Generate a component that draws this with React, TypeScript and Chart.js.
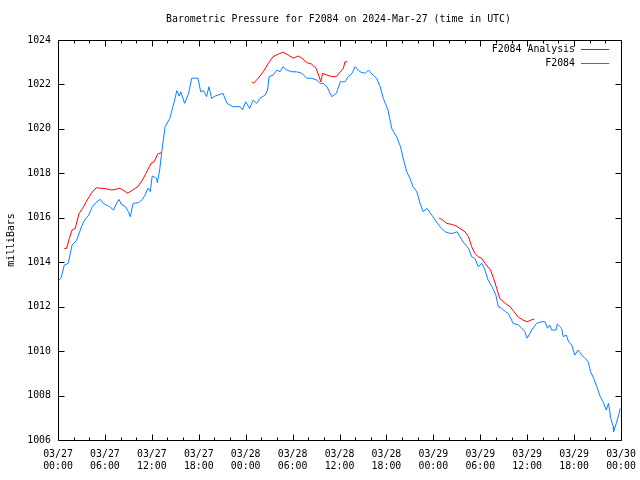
import React, { useEffect, useRef } from "react";
import { Chart, registerables } from "chart.js";

Chart.register(...registerables);

const TITLE = "Barometric Pressure for F2084 on 2024-Mar-27 (time in UTC)";
const Y_LABEL = "milliBars";
const SERIES_NAMES = ["F2084 Analysis", "F2084"];
const START_DAY = 27;
const MONTH = "03";

// hours since 2024-03-27 00:00 UTC
const blueHours = [
  0.0, 0.4, 0.8, 1.3, 1.8, 2.4, 3.0, 3.4, 3.9, 4.4, 4.9, 5.4, 5.8, 6.2, 6.6, 7.1, 7.5, 7.8, 8.1, 8.65,
  9.0, 9.25, 9.6, 10.3, 10.8, 11.1, 11.5, 11.8, 12.05, 12.6, 12.7, 13.0, 13.3, 13.7, 14.3, 14.75, 15.2,
  15.5, 15.7, 16.2, 16.7, 17.1, 17.5, 17.9, 18.25, 18.6, 19.0, 19.3, 19.65, 20.1, 21.1, 21.6, 22.4, 23.3,
  23.6, 24.0, 24.5, 24.97, 25.4, 25.8, 26.5, 26.8, 27.0, 27.5, 28.0, 28.4, 28.8, 29.2, 29.9, 30.5, 31.2,
  31.8, 32.4, 33.1, 33.5, 33.9, 34.4, 35.0, 35.6, 36.1, 36.7, 37.1, 37.6, 38.0, 38.6, 39.3, 39.7, 40.3,
  40.75, 41.2, 41.6, 42.2, 42.7, 43.3, 43.8, 44.2, 44.6, 45.0, 45.4, 45.9, 46.3, 46.7, 47.2, 47.8, 48.4,
  48.85, 49.5, 50.1, 50.5, 51.05, 51.4, 51.8, 52.5, 52.9, 53.3, 53.75, 54.2, 54.6, 55.0, 55.5, 56.0,
  56.3, 56.7, 57.2, 57.6, 58.0, 58.2, 58.9, 59.3, 59.7, 60.0, 60.6, 61.2, 61.85, 62.3, 62.6, 62.9, 63.1,
  63.7, 63.85, 64.4, 64.6, 65.0, 65.3, 65.7, 66.1, 66.5, 67.0, 67.4, 67.8, 68.1, 68.5, 68.9, 69.35, 69.8,
  70.1, 70.4, 70.7, 71.0, 71.05, 71.4, 71.7, 71.9,
];
const blueValues = [
  1013.15, 1013.3, 1013.87, 1013.95, 1014.77, 1015.0, 1015.6, 1015.9, 1016.1, 1016.5, 1016.7, 1016.83,
  1016.65, 1016.57, 1016.5, 1016.35, 1016.66, 1016.83, 1016.6, 1016.5, 1016.27, 1016.05, 1016.65,
  1016.68, 1016.83, 1017.0, 1017.33, 1017.18, 1017.88, 1017.78, 1017.58, 1018.15, 1019.05, 1020.1,
  1020.47, 1021.07, 1021.72, 1021.48, 1021.67, 1021.15, 1021.6, 1022.28, 1022.28, 1022.28, 1021.67,
  1021.72, 1021.45, 1021.9, 1021.37, 1021.48, 1021.6, 1021.15, 1021.0, 1021.0, 1020.85, 1021.22,
  1020.92, 1021.3, 1021.15, 1021.37, 1021.52, 1021.75, 1022.35, 1022.42, 1022.65, 1022.57, 1022.8,
  1022.65, 1022.57, 1022.57, 1022.5, 1022.28, 1022.28, 1022.2, 1022.05, 1022.05, 1021.9, 1021.45,
  1021.6, 1022.12, 1022.12, 1022.35, 1022.5, 1022.8, 1022.57, 1022.5, 1022.65, 1022.42, 1022.28,
  1021.9, 1021.37, 1020.85, 1020.0, 1019.65, 1019.2, 1018.6, 1018.07, 1017.78, 1017.4, 1017.17,
  1016.65, 1016.27, 1016.42, 1016.12, 1015.82, 1015.6, 1015.37, 1015.3, 1015.3, 1015.37, 1015.15,
  1014.92, 1014.62, 1014.25, 1014.17, 1013.8, 1013.95, 1013.65, 1013.2, 1012.9, 1012.52, 1012.0,
  1011.93, 1011.78, 1011.7, 1011.4, 1011.25, 1011.17, 1011.03, 1010.88, 1010.58, 1010.95, 1011.25,
  1011.32, 1011.32, 1011.03, 1011.17, 1010.95, 1010.95, 1011.22, 1011.03, 1010.65, 1010.72, 1010.42,
  1010.27, 1009.82, 1010.05, 1009.82, 1009.67, 1009.53, 1009.08, 1008.78, 1008.4, 1007.95, 1007.65,
  1007.35, 1007.65, 1006.97, 1006.6, 1006.37, 1006.75, 1007.12, 1007.42,
];

// analysis series; null breaks the line between runs
const redHours = [
  0.8, 1.1, 1.45, 1.8, 2.2, 2.7, 3.15, 3.6, 4.0, 4.4, 4.9, 5.5, 6.1, 6.8, 7.4, 7.85, 8.3, 8.9, 9.55,
  10.2, 10.8, 11.25, 11.9, 12.3, 12.75, 13.2,
  19.0,
  24.8, 25.0, 25.6, 26.25, 26.9, 27.5, 28.2, 28.8, 29.45, 30.1, 30.7, 31.2, 31.8, 32.4, 33.0, 33.4,
  33.6, 33.85, 34.4, 35.0, 35.6, 36.1, 36.5, 36.7, 37.0,
  43.0,
  48.75, 49.05, 49.7, 50.35, 50.9, 51.4, 52.05, 52.5, 52.9, 53.3, 53.75, 54.2, 54.6, 55.3, 55.7, 56.1,
  56.5, 57.2, 57.8, 58.3, 58.9, 59.45, 60.0, 60.5, 60.9,
];
const redValues: (number | null)[] = [
  1014.62, 1014.62, 1015.07, 1015.45, 1015.52, 1016.2, 1016.42, 1016.72, 1016.95, 1017.17, 1017.35,
  1017.33, 1017.31, 1017.25, 1017.28, 1017.33, 1017.25, 1017.1, 1017.25, 1017.4, 1017.7, 1018.0,
  1018.45, 1018.52, 1018.87, 1018.93,
  null,
  1022.12, 1022.05, 1022.28, 1022.57, 1022.95, 1023.25, 1023.37, 1023.45, 1023.32, 1023.18, 1023.28,
  1023.18, 1022.98, 1022.92, 1022.73, 1022.35, 1022.12, 1022.5, 1022.42, 1022.35, 1022.35, 1022.57,
  1022.73, 1023.02, 1023.02,
  null,
  1015.97, 1015.94, 1015.75, 1015.7, 1015.64, 1015.52, 1015.37, 1015.15, 1014.7, 1014.4, 1014.25,
  1014.17, 1013.95, 1013.65, 1013.28, 1012.83, 1012.37, 1012.15, 1012.0, 1011.78, 1011.52, 1011.4,
  1011.32, 1011.4, 1011.44,
];

const X_MIN = 0;
const X_MAX = 72;
const X_LABEL_STEP = 6;
const X_MINOR_STEP = 2;
const Y_MIN = 1006;
const Y_MAX = 1024;
const Y_STEP = 2;

const RED = "#ff0000";
const BLUE = "#0a80ff";
const FONT = "'DejaVu Sans Mono', monospace";
const FONT_SIZE = 9.9;

const pad2 = (n: number) => (n < 10 ? "0" + n : "" + n);

function xLabel(h: number): string[] {
  const day = START_DAY + Math.floor(h / 24);
  const hr = ((h % 24) + 24) % 24;
  return [`${MONTH}/${pad2(day)}`, `${pad2(hr)}:00`];
}

const framePlugin = {
  id: "frame",
  afterDatasetsDraw(chart: any) {
    const { ctx, chartArea: a, scales } = chart;
    const xs = scales.x;
    const ys = scales.y;
    const L = Math.round(a.left) + 0.5;
    const R = Math.round(a.right) + 0.5;
    const T = Math.round(a.top) + 0.5;
    const B = Math.round(a.bottom) + 0.5;
    ctx.save();
    ctx.strokeStyle = "#000";
    ctx.lineWidth = 1;
    ctx.beginPath();
    ctx.rect(L, T, R - L, B - T);
    for (let h = X_MIN; h <= X_MAX; h += X_MINOR_STEP) {
      const px = Math.round(xs.getPixelForValue(h)) + 0.5;
      const len = h % X_LABEL_STEP === 0 ? 6 : 3;
      ctx.moveTo(px, B);
      ctx.lineTo(px, B - len);
      ctx.moveTo(px, T);
      ctx.lineTo(px, T + len);
    }
    for (let v = Y_MIN; v <= Y_MAX; v += Y_STEP) {
      const py = Math.round(ys.getPixelForValue(v)) + 0.5;
      ctx.moveTo(L, py);
      ctx.lineTo(L + 6, py);
      ctx.moveTo(R, py);
      ctx.lineTo(R - 6, py);
    }
    ctx.stroke();
    ctx.restore();
  },
  afterDraw(chart: any) {
    const { ctx } = chart;
    ctx.save();
    ctx.fillStyle = "#000";
    ctx.font = `${FONT_SIZE}px ${FONT}`;
    ctx.textBaseline = "middle";
    ctx.textAlign = "center";
    ctx.fillText(TITLE, 338.5, 19.5);
    // legend
    const colors = [RED, BLUE];
    const rows = [49, 63];
    ctx.textAlign = "right";
    SERIES_NAMES.forEach((name, i) => {
      ctx.fillStyle = "#000";
      ctx.fillText(name, 575, rows[i]);
      ctx.strokeStyle = colors[i];
      ctx.lineWidth = 1;
      ctx.beginPath();
      ctx.moveTo(581, rows[i] + 0.5);
      ctx.lineTo(609, rows[i] + 0.5);
      ctx.stroke();
    });
    ctx.restore();
  },
};

export default function App() {
  const ref = useRef<HTMLCanvasElement | null>(null);
  useEffect(() => {
    if (!ref.current) return;
    const chart = new Chart(ref.current, {
      type: "line",
      data: {
        datasets: [
          {
            label: SERIES_NAMES[0],
            data: redHours.map((h, i) => ({ x: h, y: redValues[i] })) as any,
            borderColor: RED,
            backgroundColor: RED,
            borderWidth: 1,
            pointRadius: 0,
            spanGaps: false,
            tension: 0,
          },
          {
            label: SERIES_NAMES[1],
            data: blueHours.map((h, i) => ({ x: h, y: blueValues[i] })) as any,
            borderColor: BLUE,
            backgroundColor: BLUE,
            borderWidth: 1,
            pointRadius: 0,
            tension: 0,
          },
        ],
      },
      options: {
        responsive: false,
        animation: false,
        layout: { padding: { left: 0, right: 19, top: 40, bottom: 0 } },
        plugins: {
          legend: { display: false },
          title: { display: false },
          tooltip: { enabled: false },
        },
        scales: {
          x: {
            type: "linear",
            min: X_MIN,
            max: X_MAX,
            grid: { display: false, drawTicks: false },
            border: { display: false },
            afterFit: (s: any) => {
              s.height = 40;
              s.paddingLeft = 0;
              s.paddingRight = 0;
            },
            ticks: {
              stepSize: X_LABEL_STEP,
              autoSkip: false,
              maxRotation: 0,
              padding: 8,
              color: "#000",
              font: { family: FONT, size: FONT_SIZE, lineHeight: 1.22 },
              callback: (v: any) => xLabel(Number(v)),
            },
          },
          y: {
            type: "linear",
            min: Y_MIN,
            max: Y_MAX,
            grid: { display: false, drawTicks: false },
            border: { display: false },
            afterFit: (s: any) => {
              s.width = 58;
              s.paddingTop = 0;
              s.paddingBottom = 0;
            },
            title: {
              display: true,
              text: Y_LABEL,
              color: "#000",
              font: { family: FONT, size: FONT_SIZE },
              padding: { top: 5, bottom: 0 },
            },
            ticks: {
              stepSize: Y_STEP,
              padding: 7,
              color: "#000",
              font: { family: FONT, size: FONT_SIZE },
              callback: (v: any) => String(v),
            },
          },
        },
      },
      plugins: [framePlugin],
    });
    return () => chart.destroy();
  }, []);
  return (
    <div style={{ position: "absolute", left: 0, top: 0, width: 640, height: 480, background: "#fff" }}>
      <canvas ref={ref} width={640} height={480} style={{ display: "block" }} />
    </div>
  );
}
